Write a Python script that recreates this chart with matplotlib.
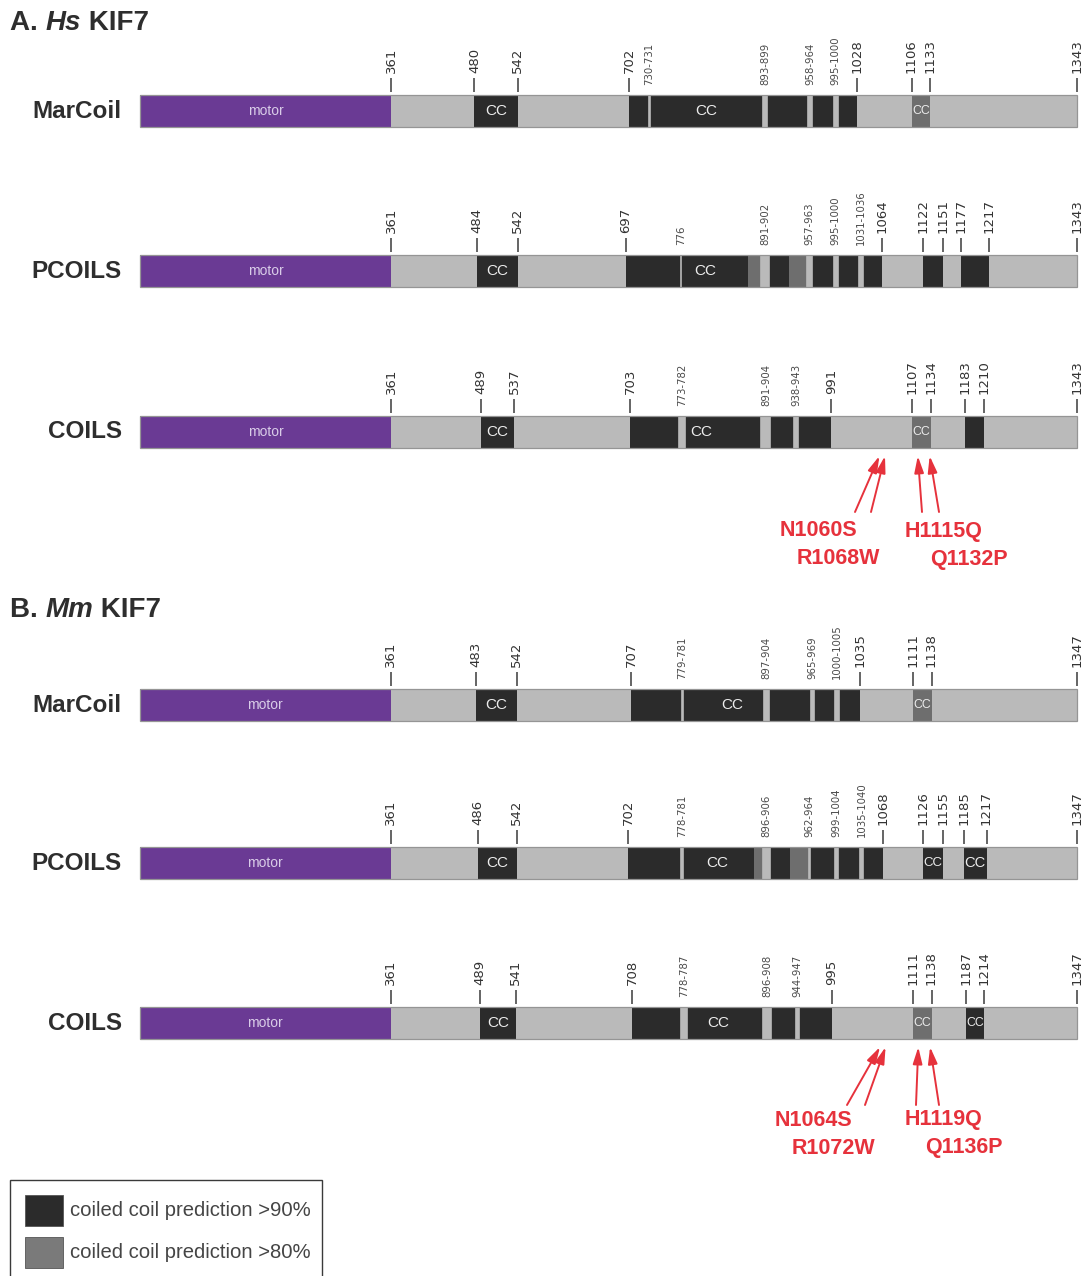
import matplotlib
matplotlib.use("Agg")
import matplotlib.pyplot as plt
from matplotlib.patches import Rectangle

plt.rcParams['font.family'] = ['Liberation Sans', 'DejaVu Sans']

W, H, DPI = 1086, 1276, 100

# ---------------- data ----------------
HS_LENGTH = 1343
MM_LENGTH = 1347
MOTOR_END = 361

# Human KIF7
HS_MARCOIL_DARK = [(480, 542), (702, 1028)]
HS_MARCOIL_MID = [(1106, 1133)]
HS_MARCOIL_GAPS = [(730, 731), (893, 899), (958, 964), (995, 1000)]
HS_MARCOIL_TICKS = [361, 480, 542, 702, 1028, 1106, 1133, 1343]
HS_MARCOIL_CC = [511, 812, 1119.5]

HS_PCOILS_DARK = [(484, 542), (697, 872), (902, 930), (963, 1064), (1122, 1151), (1177, 1217)]
HS_PCOILS_MID = [(872, 891), (930, 957)]
HS_PCOILS_GAPS = [(776, 776), (891, 902), (957, 963), (995, 1000), (1031, 1036)]
HS_PCOILS_TICKS = [361, 484, 542, 697, 1064, 1122, 1151, 1177, 1217, 1343]
HS_PCOILS_CC = [513, 810]

HS_COILS_DARK = [(489, 537), (703, 991), (1183, 1210)]
HS_COILS_MID = [(1107, 1134)]
HS_COILS_GAPS = [(773, 782), (891, 904), (938, 943)]
HS_COILS_TICKS = [361, 489, 537, 703, 991, 1107, 1134, 1183, 1210, 1343]
HS_COILS_CC = [513, 805, 1120.5]

HS_MUTATIONS = ["N1060S", "R1068W", "H1115Q", "Q1132P"]

# Mouse KIF7
MM_MARCOIL_DARK = [(483, 542), (707, 1035)]
MM_MARCOIL_MID = [(1111, 1138)]
MM_MARCOIL_GAPS = [(779, 781), (897, 904), (965, 969), (1000, 1005)]
MM_MARCOIL_TICKS = [361, 483, 542, 707, 1035, 1111, 1138, 1347]
MM_MARCOIL_CC = [512.5, 852, 1124.5]

MM_PCOILS_DARK = [(486, 542), (702, 883), (906, 935), (964, 1068), (1126, 1155), (1185, 1217)]
MM_PCOILS_MID = [(883, 896), (935, 962)]
MM_PCOILS_GAPS = [(778, 781), (896, 906), (962, 964), (999, 1004), (1035, 1040)]
MM_PCOILS_TICKS = [361, 486, 542, 702, 1068, 1126, 1155, 1185, 1217, 1347]
MM_PCOILS_CC = [514, 830, 1140.5, 1201]

MM_COILS_DARK = [(489, 541), (708, 995), (1187, 1214)]
MM_COILS_MID = [(1111, 1138)]
MM_COILS_GAPS = [(778, 787), (896, 908), (944, 947)]
MM_COILS_TICKS = [361, 489, 541, 708, 995, 1111, 1138, 1187, 1214, 1347]
MM_COILS_CC = [515, 832, 1124.5, 1200.5]

MM_MUTATIONS = ["N1064S", "R1072W", "H1119Q", "Q1136P"]

LEGEND_LABELS = ["coiled coil prediction >90%", "coiled coil prediction >80%"]

# ---------------- style ----------------
PURPLE = '#6a3a94'
DARK = '#2b2b2b'
MID = '#6e6e6e'
LIGHT = '#bababa'
EDGE = '#959595'
RED = '#e6323c'
TXT = '#2e2e2e'

BAR_LEFT, BAR_RIGHT, BAR_H = 140, 1077, 32

fig = plt.figure(figsize=(W / DPI, H / DPI), dpi=DPI)
fig.patch.set_facecolor('white')

# overlay in pixel coordinates for titles, labels and legend
ov = fig.add_axes([0, 0, 1, 1])
ov.set_xlim(0, W)
ov.set_ylim(H, 0)
ov.axis('off')


def title(x, y, prefix, species, rest):
    kw = dict(fontsize=20, fontweight='bold', color=TXT)
    t1 = ov.text(x, y, prefix, va='baseline', **kw)
    t2 = ov.annotate(species, xy=(1, 0), xycoords=t1, va='bottom', ha='left',
                     style='italic', **kw)
    ov.annotate(rest, xy=(1, 0), xycoords=t2, va='bottom', ha='left', **kw)


def cc_fontsize(c, blocks, length):
    # shrink the "CC" tag so it stays inside short blocks
    for a, b in blocks:
        if a <= c <= b:
            width_px = (b - a) / (length - 1) * (BAR_RIGHT - BAR_LEFT)
            return min(11.0, (width_px - 1) / (1.444 * DPI / 72))
    return 11.0


def row(top, name, length, dark, mid, gaps, ticks, cc):
    ax = fig.add_axes([BAR_LEFT / W, 1 - (top + BAR_H) / H,
                       (BAR_RIGHT - BAR_LEFT) / W, BAR_H / H])
    ax.set_xlim(1, length)
    ax.set_ylim(0, 1)
    ax.axis('off')
    xt = ax.get_xaxis_transform()
    px = 1.0 / BAR_H

    ax.add_patch(Rectangle((1, 0), length - 1, 1, facecolor=LIGHT, edgecolor='none'))
    ax.add_patch(Rectangle((1, 0), MOTOR_END - 1, 1, facecolor=PURPLE, edgecolor='none'))
    for a, b in mid:
        ax.add_patch(Rectangle((a, 0), b - a, 1, facecolor=MID, edgecolor='none'))
    for a, b in dark:
        ax.add_patch(Rectangle((a, 0), b - a, 1, facecolor=DARK, edgecolor='none'))
    for a, b in gaps:
        ax.add_patch(Rectangle((a, 0), b - a, 1, facecolor=LIGHT, edgecolor=LIGHT,
                               linewidth=1.2))
        lab = f"{a}" if a == b else f"{a}-{b}"
        ax.text((a + b) / 2, 1 + 10 * px, lab, transform=xt, rotation=90,
                ha='center', va='bottom', fontsize=7.3, family='DejaVu Sans',
                color='#4a4a4a', clip_on=False)
    ax.add_patch(Rectangle((1, 0), length - 1, 1, facecolor='none', edgecolor=EDGE,
                           linewidth=0.9, clip_on=False))

    ax.text((1 + MOTOR_END) / 2, 0.5, "motor", ha='center', va='center',
            fontsize=10, color='#d9cce8')
    for c in cc:
        ax.text(c, 0.5, "CC", ha='center', va='center',
                fontsize=cc_fontsize(c, dark + mid, length), color='#ececec')

    ax.vlines(ticks, 1 + 3 * px, 1 + 17 * px, transform=xt, colors='#3a3a3a',
              linewidth=1.1, clip_on=False)
    for t in ticks:
        ax.text(t, 1 + 22 * px, str(t), transform=xt, rotation=90, ha='center',
                va='bottom', fontsize=9.5, family='DejaVu Sans', color='#333333',
                clip_on=False)

    ov.text(122, top + BAR_H / 2, name, ha='right', va='center', fontsize=17.5,
            fontweight='bold', color=TXT)
    return ax


def mutations(ax, labels, tip_gap, tails, tail_y, label_pos):
    px = 1.0 / BAR_H
    for lab, tx, (lx, ly) in zip(labels, tails, label_pos):
        site = int(lab[1:-1])
        ax.annotate("", xy=(site, -tip_gap * px), xycoords=ax.get_xaxis_transform(),
                    xytext=(tx, tail_y), textcoords=ov.transData,
                    arrowprops=dict(arrowstyle='-|>,head_length=1.0,head_width=0.28',
                                    color=RED, lw=1.4, shrinkA=0, shrinkB=0,
                                    mutation_scale=10))
        ov.text(lx, ly, lab, ha='left', va='center', fontsize=15.5, fontweight='bold',
                color=RED)


# ---------------- panel A ----------------
title(10, 30, "A. ", "Hs", " KIF7")
row(95, "MarCoil", HS_LENGTH, HS_MARCOIL_DARK, HS_MARCOIL_MID, HS_MARCOIL_GAPS,
    HS_MARCOIL_TICKS, HS_MARCOIL_CC)
row(255, "PCOILS", HS_LENGTH, HS_PCOILS_DARK, HS_PCOILS_MID, HS_PCOILS_GAPS,
    HS_PCOILS_TICKS, HS_PCOILS_CC)
ax_a = row(416, "COILS", HS_LENGTH, HS_COILS_DARK, HS_COILS_MID, HS_COILS_GAPS,
           HS_COILS_TICKS, HS_COILS_CC)
mutations(ax_a, HS_MUTATIONS, 8, [855, 871, 922, 939], 512,
          [(780, 531), (797, 559), (905, 531), (930, 559)])

# ---------------- panel B ----------------
title(10, 617, "B. ", "Mm", " KIF7")
row(689, "MarCoil", MM_LENGTH, MM_MARCOIL_DARK, MM_MARCOIL_MID, MM_MARCOIL_GAPS,
    MM_MARCOIL_TICKS, MM_MARCOIL_CC)
row(847, "PCOILS", MM_LENGTH, MM_PCOILS_DARK, MM_PCOILS_MID, MM_PCOILS_GAPS,
    MM_PCOILS_TICKS, MM_PCOILS_CC)
ax_b = row(1007, "COILS", MM_LENGTH, MM_COILS_DARK, MM_COILS_MID, MM_COILS_GAPS,
           MM_COILS_TICKS, MM_COILS_CC)
mutations(ax_b, MM_MUTATIONS, 8, [847, 865, 916, 939], 1105,
          [(775, 1120), (792, 1148), (905, 1120), (925, 1148)])

# ---------------- legend ----------------
ov.add_patch(Rectangle((10, 1180), 312, 110, facecolor='white', edgecolor='#3a3a3a',
                       linewidth=1.0, clip_on=False))
for (y, color), lab in zip([(1195, DARK), (1237, '#7a7a7a')], LEGEND_LABELS):
    ov.add_patch(Rectangle((25, y), 38, 31, facecolor=color, edgecolor='#555555',
                           linewidth=0.6))
    ov.text(70, y + 16, lab, ha='left', va='center', fontsize=14.6, color='#454545')

fig.savefig("out.png", dpi=DPI, facecolor='white')
